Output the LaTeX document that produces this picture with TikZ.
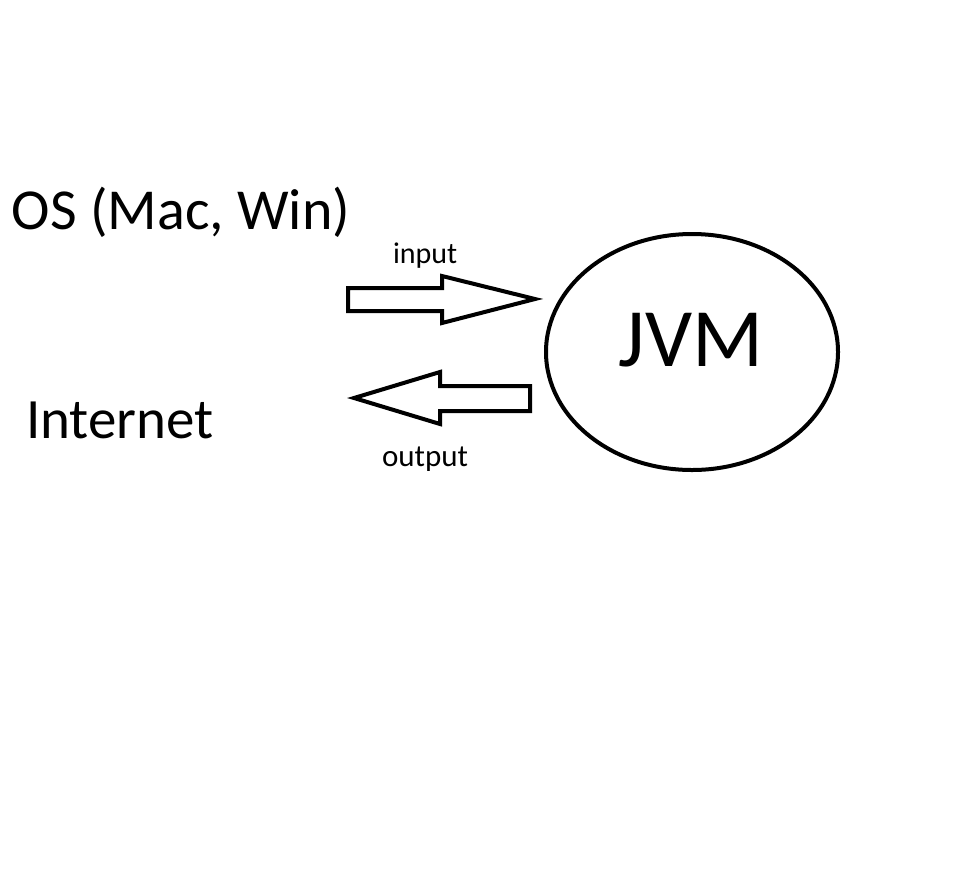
\documentclass[tikz,border=0pt]{standalone}
\usepackage{fontspec}
\setmainfont{Carlito}
\begin{document}
\begin{tikzpicture}[x=1pt,y=-1pt,line width=4pt,line join=miter,
    label/.style={inner sep=0pt,anchor=base west}]
  \useasboundingbox (0,0) rectangle (973,895);
  \draw
    (10,229) node[label,font=\fontsize{58}{60}\selectfont] (os){OS (Mac, Win)}
    (24,438) node[label,font=\fontsize{57}{60}\selectfont] (net){Internet}
    (391,263) node[label,font=\fontsize{30}{32}\selectfont] (in){input}
    (380,466) node[label,font=\fontsize{31}{32}\selectfont] (out){output};
  \draw (692,352) ellipse[x radius=146,y radius=118];
  \node[inner sep=0pt,anchor=base,font=\fontsize{83}{84}\selectfont] (jvm) at (691,366) {JVM};
  \begin{scope}[line width=4pt]
    \draw (348,288) -- (442,288) -- (442,276) -- (535,299) -- (442,323) -- (442,311) -- (348,311) -- cycle;
    \draw (530,386) -- (440,386) -- (440,372) -- (354,398) -- (440,424) -- (440,411) -- (530,411) -- cycle;
  \end{scope}
\end{tikzpicture}
\end{document}
